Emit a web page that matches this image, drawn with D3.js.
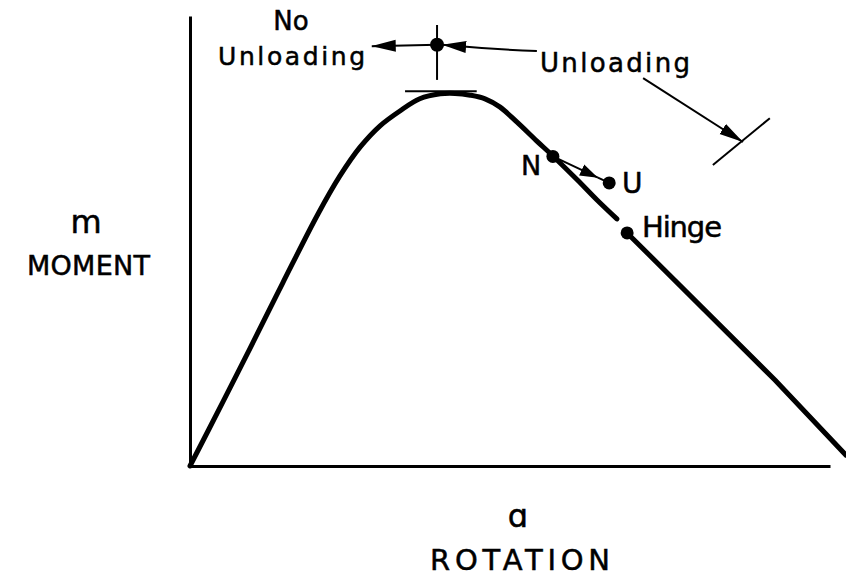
<!DOCTYPE html>
<html>
<head>
<meta charset="utf-8">
<script src="https://cdn.jsdelivr.net/npm/d3@7"></script>
<style>
	body { margin: 0; background: #fff; }
	text { font-family: "DejaVu Sans", sans-serif; fill: #000; stroke: #000; stroke-width: 0.5; }
	.curve { fill: none; stroke: #000; stroke-width: 5; stroke-linecap: round; stroke-linejoin: round; }
	.thin { fill: none; stroke: #000; stroke-width: 2; }
	.axis path { stroke: #000; stroke-width: 3; }
</style>
</head>
<body>
<div id="chart"></div>
<script>
var w = 846;
var h = 578;

// moment-rotation curve (arbitrary units 0-100)
var rotation = [0, 5.2, 9.4, 14.5, 20.0, 23.4, 26.6, 29.7, 32.8, 35.9, 39.1, 41.4, 43.8, 46.1, 48.4, 51.1, 54.2, 56.7, 60.5, 63.6, 66.7];
var moment   = [0, 14.4, 26.2, 40.7, 56.0, 64.4, 70.9, 75.6, 78.9, 81.6, 82.7, 82.8, 82.4, 81.6, 79.8, 76.4, 72.2, 68.9, 63.6, 59.1, 54.9];
// after the hinge forms
var hingeRotation = [68.3, 91.4, 102.5];
var hingeMoment   = [51.8, 19.1, 2.4];

// marked points
var pointNames = ["N", "U", "Hinge", "top"];
var pointRot   = [56.7, 65.5, 68.3, 38.6];
var pointMom   = [68.8, 62.9, 51.8, 93.6];

// peak tangent line and the vertical tick above it
var tangentRot = [33.6, 44.8];
var tangentMom = [83.3, 83.3];
var tickRot = [38.6, 38.6];
var tickMom = [98.0, 85.8];

// "Unloading" leader and the tick it points at
var leaderRot = [70.8, 86.4];
var leaderMom = [86.2, 72.0];
var leaderTickRot = [81.7, 90.6];
var leaderTickMom = [66.9, 77.3];

// arrows near the top point
var noUnloadRot = [38.6, 28.4];
var noUnloadMom = [93.6, 93.3];
var unloadRot = [54.2, 39.4];
var unloadMom = [92.2, 93.6];

function init(){

	var xScale = d3.scaleLinear()
					.domain([0, 100])
					.range([190, 830]);

	var yScale = d3.scaleLinear()
					.domain([0, 100])
					.range([466, 16]);

	var svg = d3.select("#chart")
				.append("svg")
				.attr("width", w)
				.attr("height", h);

	// arrowheads
	var defs = svg.append("defs");
	defs.append("marker")
		.attr("id", "head")
		.attr("viewBox", "0 -7 24 14")
		.attr("refX", 24)
		.attr("refY", 0)
		.attr("markerUnits", "userSpaceOnUse")
		.attr("markerWidth", 24)
		.attr("markerHeight", 14)
		.attr("orient", "auto")
		.append("path")
		.attr("d", "M0,-6L24,0L0,6Z")
		.attr("fill", "#000");

	defs.append("marker")
		.attr("id", "headSmall")
		.attr("viewBox", "0 -7 18 14")
		.attr("refX", 18)
		.attr("refY", 0)
		.attr("markerUnits", "userSpaceOnUse")
		.attr("markerWidth", 18)
		.attr("markerHeight", 14)
		.attr("orient", "auto")
		.append("path")
		.attr("d", "M0,-6L18,0L0,6Z")
		.attr("fill", "#000");

	// axes, no ticks
	svg.append("g")
		.attr("class", "axis")
		.attr("transform", "translate(0," + yScale(0) + ")")
		.call(d3.axisBottom(xScale).tickValues([]).tickSizeOuter(0));

	svg.append("g")
		.attr("class", "axis")
		.attr("transform", "translate(" + xScale(0) + ",0)")
		.call(d3.axisLeft(yScale).tickValues([]).tickSizeOuter(0));

	var line = d3.line()
				.x(function(d) { return xScale(d[0]); })
				.y(function(d) { return yScale(d[1]); });

	var smooth = d3.line()
				.x(function(d) { return xScale(d[0]); })
				.y(function(d) { return yScale(d[1]); })
				.curve(d3.curveCatmullRom.alpha(0.5));

	svg.append("path")
		.datum(d3.zip(rotation, moment))
		.attr("class", "curve")
		.attr("d", smooth);

	svg.append("path")
		.datum(d3.zip(hingeRotation, hingeMoment))
		.attr("class", "curve")
		.attr("d", line);

	// tangent at the peak and the tick above it
	svg.append("path").datum(d3.zip(tangentRot, tangentMom)).attr("class", "thin").attr("d", line);
	svg.append("path").datum(d3.zip(tickRot, tickMom)).attr("class", "thin").attr("d", line);

	// leader from "Unloading"
	svg.append("path").datum(d3.zip(leaderRot, leaderMom)).attr("class", "thin").attr("marker-end", "url(#head)").attr("d", line);
	svg.append("path").datum(d3.zip(leaderTickRot, leaderTickMom)).attr("class", "thin").attr("d", line);

	// arrows at the top point
	svg.append("path").datum(d3.zip(noUnloadRot, noUnloadMom)).attr("class", "thin").attr("marker-end", "url(#head)").attr("d", line);
	svg.append("path").datum(d3.zip(unloadRot, unloadMom)).attr("class", "thin")
		.attr("stroke-width", 2.5).attr("marker-end", "url(#head)")
		.attr("d", function(d){
			var a = [xScale(d[0][0]), yScale(d[0][1])];
			var b = [xScale(d[1][0]), yScale(d[1][1])];
			return "M" + a + "Q" + [(a[0] + b[0]) / 2, a[1] - 2] + " " + b;
		});

	// N -> U, arrowhead short of U
	var n = [xScale(pointRot[0]), yScale(pointMom[0])];
	var u = [xScale(pointRot[1]), yScale(pointMom[1])];
	var mid = d3.interpolateArray(n, u)(0.8);
	svg.append("path").attr("class", "thin").attr("stroke-width", 2.5)
		.attr("marker-end", "url(#headSmall)")
		.attr("d", "M" + n + "L" + mid);
	svg.append("path").attr("class", "thin").attr("stroke-width", 2.5)
		.attr("d", "M" + mid + "L" + u);

	// dots
	svg.selectAll("circle.pt")
		.data(d3.range(pointNames.length))
		.enter()
		.append("circle")
		.attr("class", "pt")
		.attr("cx", function(i) { return xScale(pointRot[i]); })
		.attr("cy", function(i) { return yScale(pointMom[i]); })
		.attr("r", function(i) { return pointNames[i] == "top" ? 7 : 6.5; })
		.attr("fill", "#000");

	// labels
	function label(txt, x, y, size, anchor, len){
		var t = svg.append("text")
			.attr("x", x)
			.attr("y", y)
			.attr("font-size", size)
			.attr("text-anchor", anchor || "start")
			.text(txt);
		if (len) t.attr("textLength", len).attr("lengthAdjust", "spacing");
		return t;
	}

	label("No", 291, 30, 26, "middle");
	label("Unloading", 218, 65, 25, "start", 147);
	label("Unloading", 540, 72, 26, "start", 150);
	label("N", 521, 175, 27);
	label("U", 622, 193, 28);
	label("Hinge", 642, 237, 29, "start", 80);

	label("m", 86, 233, 32, "middle");
	label("MOMENT", 27, 275, 27, "start", 123);
	label("\u0251", 518, 527, 32, "middle");
	label("ROTATION", 430, 570, 29, "start", 180);
}

window.onload = init;
</script>
</body>
</html>
